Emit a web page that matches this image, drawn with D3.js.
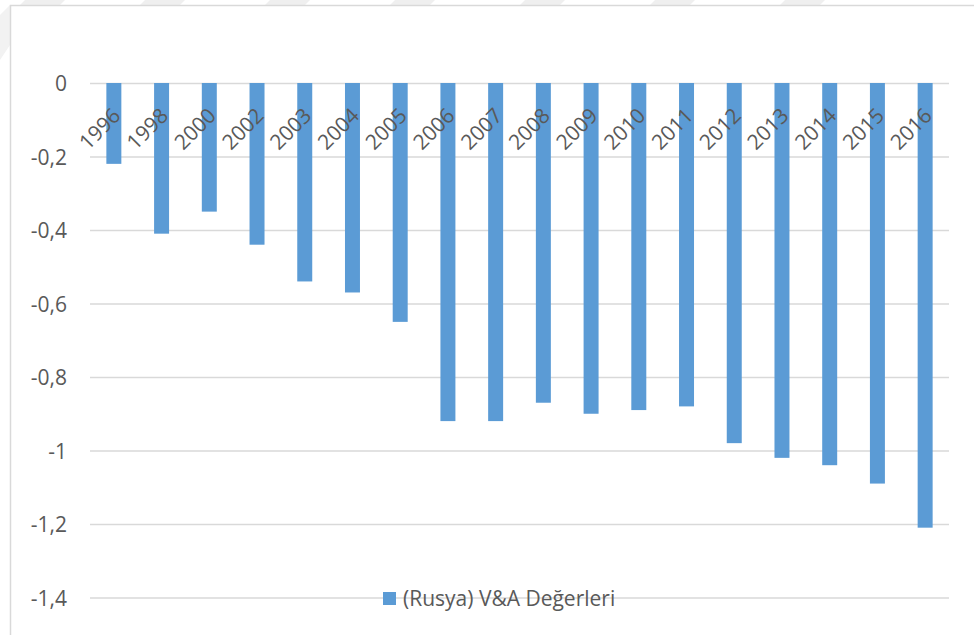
<!DOCTYPE html>
<html>
<head>
<meta charset="utf-8">
<script src="https://cdn.jsdelivr.net/npm/d3@7"></script>
<style>
  body { margin: 0; background: #fff; }
  svg { display: block; font-family: "Open Sans", sans-serif; }
</style>
</head>
<body>
<svg class="svg" width="974" height="635"></svg>
<script>
// yıllar ve değerler
const years = ["1996", "1998", "2000", "2002", "2003", "2004", "2005", "2006", "2007",
    "2008", "2009", "2010", "2011", "2012", "2013", "2014", "2015", "2016"];
const values = [-0.22, -0.41, -0.35, -0.44, -0.54, -0.57, -0.65, -0.92, -0.92,
    -0.87, -0.90, -0.89, -0.88, -0.98, -1.02, -1.04, -1.09, -1.21];
const yTicks = [0, -0.2, -0.4, -0.6, -0.8, -1, -1.2, -1.4];
const seriesName = "(Rusya) V&A Değerleri";

const width = 974, height = 635;
const fontSize = 21;
const svg = d3.select(".svg");

// soluk filigran şeritleri
const stripes = [0, 120, 245, 370, 500, 630, 760];
svg.selectAll(".wm")
    .data(stripes)
    .enter()
    .append("path")
    .attr("class", "wm")
    .attr("d", d => `M${d + 25},0 L${d + 65},0 L${d + 60},5 L${d + 20},5 Z`)
    .attr("fill", "#efefef");
svg.append("path")
    .attr("d", "M0,15 L10,5 L10,45 L0,60 Z")
    .attr("fill", "#f2f2f2");

// grafik çerçevesi
svg.append("path")
    .attr("d", `M10.5,${height} L10.5,5.5 L${width},5.5`)
    .attr("fill", "none")
    .attr("stroke", "#d9d9d9")
    .attr("stroke-width", 1.5);

const x = d3.scaleBand()
    .domain(years)
    .range([90, 949])
    .paddingInner(0.686)
    .paddingOuter(0.343);

const y = d3.scaleLinear()
    .domain([-1.4, 0])
    .range([597.5, 83]);

// yatay kılavuz çizgileri
const yAxis = d3.axisLeft(y)
    .tickValues(yTicks)
    .tickSize(-(949 - 90))
    .tickPadding(23)
    .tickFormat(d => String(d).replace(".", ","));

const gy = svg.append("g")
    .attr("transform", "translate(90,0)")
    .call(yAxis);
gy.select(".domain").remove();
gy.selectAll(".tick line")
    .attr("stroke", "#d9d9d9")
    .attr("stroke-width", 1.5);
gy.selectAll(".tick text")
    .attr("fill", "#595959")
    .attr("font-size", fontSize)
    .attr("font-family", "'Open Sans', sans-serif")
    .attr("dy", "0.36em");

// çubuklar
svg.selectAll(".bar")
    .data(values)
    .enter()
    .append("rect")
    .attr("class", "bar")
    .attr("x", (d, i) => x(years[i]))
    .attr("y", y(0))
    .attr("width", x.bandwidth())
    .attr("height", d => y(d) - y(0))
    .attr("fill", "#5b9bd5");

// eğik yıl etiketleri
svg.selectAll(".xlab")
    .data(years)
    .enter()
    .append("text")
    .attr("class", "xlab")
    .attr("transform", d => `translate(${x(d) + x.bandwidth() / 2 + 8},${117}) rotate(-45)`)
    .attr("text-anchor", "end")
    .attr("fill", "#595959")
    .attr("font-size", fontSize)
    .text(d => d);

// gösterge
const legend = svg.append("g").attr("transform", "translate(383,592)");
legend.append("rect")
    .attr("width", 13)
    .attr("height", 13)
    .attr("fill", "#5b9bd5");
legend.append("text")
    .attr("x", 20)
    .attr("y", 14)
    .attr("fill", "#595959")
    .attr("font-size", fontSize)
    .text(seriesName);
</script>
</body>
</html>
